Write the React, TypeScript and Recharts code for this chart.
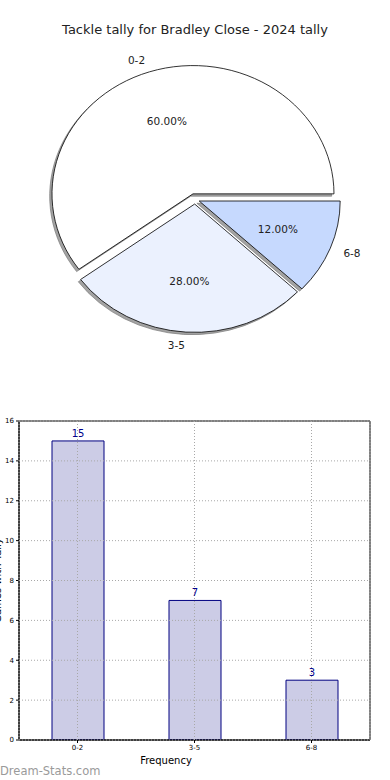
import React from 'react';
import { PieChart, Pie, BarChart, Bar, XAxis, YAxis, CartesianGrid, LabelList, ReferenceArea, Label } from 'recharts';

const title = 'Tackle tally for Bradley Close - 2024 tally';
const categories = ['0-2', '3-5', '6-8'];
const tallyCounts = [15, 7, 3];
const yTicks = [0, 2, 4, 6, 8, 10, 12, 14, 16];
const sliceColors = ['#ffffff', '#ebf1fe', '#c6d9fe'];
const xAxisTitle = 'Frequency';
const yAxisTitle = 'Games with Tally';
const watermark = 'Dream-Stats.com';

const data = categories.map((c, i) => ({ name: c, value: tallyCounts[i] }));

const RY = 0.91;
const EXPLODE = [6.5, 5, 4.5];
const RAD = Math.PI / 180;
const FONT = 'DejaVu Sans, sans-serif';

function ellipsePath(ox: number, oy: number, rx: number, ry: number, s: number, e: number) {
  const x1 = ox + rx * Math.cos(s * RAD);
  const y1 = oy - ry * Math.sin(s * RAD);
  const x2 = ox + rx * Math.cos(e * RAD);
  const y2 = oy - ry * Math.sin(e * RAD);
  const large = Math.abs(e - s) > 180 ? 1 : 0;
  return `M${ox},${oy} L${x1},${y1} A${rx},${ry} 0 ${large} 0 ${x2},${y2} Z`;
}

const renderSlice = (p: any) => {
  const { cx, cy, outerRadius, startAngle, endAngle, midAngle, index, percent } = p;
  const rx = outerRadius;
  const ry = outerRadius * RY;
  const ex = EXPLODE[index] ?? 5;
  const c = Math.cos(midAngle * RAD);
  const sn = Math.sin(midAngle * RAD);
  const ox = cx + ex * c;
  const oy = cy - ex * RY * sn;
  const s = Math.min(startAngle, endAngle);
  const e = Math.max(startAngle, endAngle);
  const d = ellipsePath(ox, oy, rx, ry, s, e);
  const px = ox + 0.6 * rx * c;
  const py = oy - 0.6 * ry * sn;
  const lx = ox + 1.1 * rx * c;
  const ly = oy - 1.1 * ry * sn;
  return (
    <g key={`slice-${index}`}>
      <path d={d} transform="translate(-2.3,2.3)" fill="#a3a3a3" stroke="#7a7a7a" strokeWidth={0.7} />
      <path d={d} fill={sliceColors[index]} stroke="#000" strokeWidth={0.8} />
      <text x={px} y={py} textAnchor="middle" dominantBaseline="central" fontSize={10.5} fill="#222" fontFamily={FONT}>
        {(percent * 100).toFixed(2)}%
      </text>
      <text x={lx} y={ly} textAnchor={c < 0 ? 'end' : 'start'} dominantBaseline="central" fontSize={10.5} fill="#222" fontFamily={FONT}>
        {categories[index]}
      </text>
    </g>
  );
};

export default function App() {
  return (
    <div style={{ position: 'absolute', left: 0, top: 0, width: 390, height: 780, background: '#fff', fontFamily: FONT, overflow: 'hidden' }}>
      <div style={{ position: 'absolute', left: 0, top: 21, width: 390, textAlign: 'center', fontSize: 13, color: '#222', lineHeight: '18px' }}>
        {title}
      </div>
      <div style={{ position: 'absolute', left: 0, top: 0 }}>
        <PieChart width={390} height={390} margin={{ top: 0, right: 0, bottom: 0, left: 0 }}>
          <Pie
            data={data}
            dataKey="value"
            nameKey="name"
            cx={195}
            cy={199.5}
            outerRadius={141}
            startAngle={0}
            endAngle={360}
            fill="none"
            stroke="none"
            labelLine={false}
            label={renderSlice}
            isAnimationActive={false}
          />
        </PieChart>
      </div>
      <div style={{ position: 'absolute', left: 0, top: 400 }}>
        <BarChart width={390} height={380} data={data} margin={{ top: 21, right: 20, bottom: 20, left: 0 }}>
          <XAxis
            dataKey="name"
            interval={0}
            height={20}
            tickSize={3}
            tick={{ fontSize: 7, fill: '#000', fontFamily: FONT }}
            tickLine={{ stroke: '#000' }}
            axisLine={{ stroke: '#000' }}
          >
            <Label
              content={() => (
                <text x={166} y={360} textAnchor="middle" dominantBaseline="central" fontSize={10} fill="#000" fontFamily={FONT}>
                  {xAxisTitle}
                </text>
              )}
            />
          </XAxis>
          <YAxis
            domain={[0, 16]}
            ticks={yTicks}
            width={19}
            tickSize={3}
            allowDataOverflow
            tick={{ fontSize: 7, fill: '#000', fontFamily: FONT }}
            tickLine={{ stroke: '#000' }}
            axisLine={{ stroke: '#000' }}
          >
            <Label
              content={() => (
                <text x={-3} y={180.5} transform="rotate(-90,-3,180.5)" textAnchor="middle" dominantBaseline="central" fontSize={10} fill="#000" fontFamily={FONT}>
                  {yAxisTitle}
                </text>
              )}
            />
          </YAxis>
          <Bar dataKey="value" barSize={52} fill="#000080" fillOpacity={0.2} stroke="#000080" strokeWidth={1} isAnimationActive={false}>
            <LabelList dataKey="value" position="top" offset={4} fill="#00008b" fontSize={10} fontFamily={FONT} />
          </Bar>
          <CartesianGrid stroke="#a8a8a8" strokeDasharray="1 2" zIndex={500} />
          <ReferenceArea y1={0} y2={16} fill="none" stroke="#000" strokeWidth={1} ifOverflow="visible" />
        </BarChart>
      </div>
      <div style={{ position: 'absolute', left: 0, top: 763, fontSize: 11.5, color: '#9a9a9a', lineHeight: '16px' }}>
        {watermark}
      </div>
    </div>
  );
}
